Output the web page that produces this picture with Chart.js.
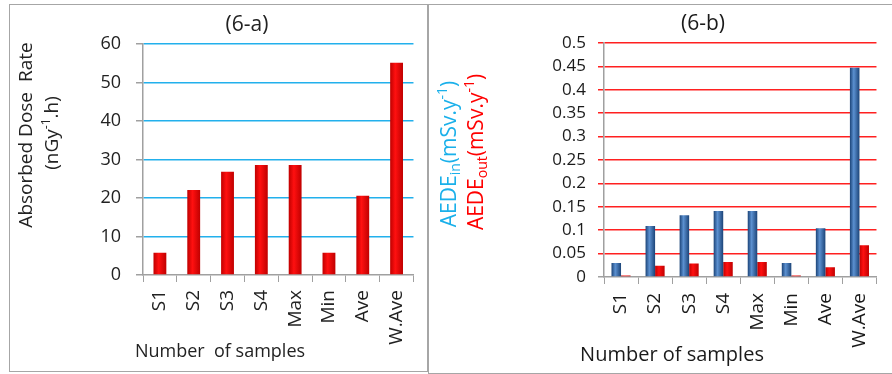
<!DOCTYPE html>
<html>
<head>
<meta charset="utf-8">
<script src="https://cdn.jsdelivr.net/npm/chart.js"></script>
<style>
  body { margin: 0; background: #fff; width: 892px; height: 374px; position: relative; overflow: hidden; }
  canvas { position: absolute; top: 0; }
  .frame { position: absolute; border: 1.5px solid #a6a6a6; box-sizing: border-box; pointer-events: none; }
</style>
</head>
<body>
<canvas id="chartA" width="428" height="374" style="left:0"></canvas>
<canvas id="chartB" width="464" height="374" style="left:428px"></canvas>
<div class="frame" style="left:9px;top:4px;width:419px;height:368px"></div>
<div class="frame" style="left:428px;top:4px;width:470px;height:370px"></div>
<script>
const categories = ["S1", "S2", "S3", "S4", "Max", "Min", "Ave", "W.Ave"];
const doseRate = [5.8, 22.1, 26.8, 28.6, 28.6, 5.8, 20.6, 55.1];
const aedeIn = [0.030, 0.109, 0.132, 0.141, 0.141, 0.030, 0.104, 0.447];
const aedeOut = [0.003, 0.024, 0.029, 0.032, 0.032, 0.003, 0.021, 0.068];
const doseTicks = ["0", "10", "20", "30", "40", "50", "60"];
const aedeTicks = ["0", "0.05", "0.1", "0.15", "0.2", "0.25", "0.3", "0.35", "0.4", "0.45", "0.5"];

const FONT = "'Open Sans', 'DejaVu Sans', sans-serif";
const AXIS_GREY = "#a0a0a0";
Chart.defaults.font.family = FONT;

// shaded fill like the old excel cylinder bars
function barFill(dark, light, nSets, catPct, barPct) {
  return (ctx) => {
    const chart = ctx.chart;
    const xs = chart.scales.x;
    if (ctx.type !== "data" || !xs || !chart.chartArea) return light;
    const catW = (xs.right - xs.left) / categories.length;
    const groupW = catW * catPct;
    const slot = groupW / nSets;
    const w = slot * barPct;
    const start = xs.getPixelForValue(ctx.dataIndex) - groupW / 2 + ctx.datasetIndex * slot + (slot - w) / 2;
    const g = chart.ctx.createLinearGradient(start, 0, start + w, 0);
    g.addColorStop(0, dark);
    g.addColorStop(0.4, light);
    g.addColorStop(1, dark);
    return g;
  };
}

// titles with sub/superscripts drawn on the canvas
const panelText = {
  id: "panelText",
  afterDraw(chart, args, opts) {
    const c = chart.ctx;
    (opts.items || []).forEach(item => {
      const size = item.size;
      const fontFor = p => `${p.sub || p.sup ? Math.round(size * 0.65) : size}px ${FONT}`;
      let total = 0;
      item.parts.forEach(p => { c.font = fontFor(p); total += c.measureText(p.t).width; });
      c.save();
      c.translate(item.x, item.y);
      if (item.rotate) c.rotate(-Math.PI / 2);
      c.textAlign = "left";
      c.textBaseline = "middle";
      c.fillStyle = item.color;
      let cx = -total / 2;
      item.parts.forEach(p => {
        c.font = fontFor(p);
        const dy = p.sub ? size * 0.3 : p.sup ? -size * 0.33 : 0;
        c.fillText(p.t, cx, dy);
        cx += c.measureText(p.t).width;
      });
      c.restore();
    });
  }
};

new Chart(document.getElementById("chartA"), {
  type: "bar",
  data: {
    labels: categories,
    datasets: [{
      label: "Absorbed Dose Rate",
      data: doseRate,
      backgroundColor: barFill("#c00000", "#ff1010", 1, 1, 0.38),
      borderWidth: 0,
      categoryPercentage: 1,
      barPercentage: 0.38
    }]
  },
  options: {
    responsive: false,
    animation: false,
    layout: { padding: { top: 44, right: 10, left: 0, bottom: 0 } },
    plugins: {
      legend: { display: false },
      tooltip: { enabled: false },
      panelText: {
        items: [
          { parts: [{ t: "(6-a)" }], x: 247, y: 25, size: 21, color: "#222" },
          { parts: [{ t: "Absorbed Dose  Rate" }], x: 27, y: 135, size: 19, rotate: true, color: "#222" },
          { parts: [{ t: "(nGy" }, { t: "-1", sup: true }, { t: ".h)" }], x: 53, y: 133, size: 19, rotate: true, color: "#222" },
          { parts: [{ t: "Number  of samples" }], x: 220, y: 352, size: 18, color: "#222" }
        ]
      }
    },
    scales: {
      x: {
        grid: { drawOnChartArea: false, tickLength: 7, tickColor: AXIS_GREY },
        border: { color: AXIS_GREY, width: 1.5 },
        ticks: { minRotation: 90, maxRotation: 90, padding: 8, color: "#222", font: { size: 19 } },
        afterFit: s => { s.height = 99; }
      },
      y: {
        min: 0,
        max: 60,
        ticks: { stepSize: 10, padding: 15, color: "#222", font: { size: 18 }, callback: (v, i) => doseTicks[i] },
        grid: {
          color: c => c.tick && c.tick.value === 0 ? "rgba(0,0,0,0)" : "#22b0ec",
          lineWidth: 1.5,
          tickLength: 7,
          tickColor: AXIS_GREY
        },
        border: { color: AXIS_GREY, width: 1.5 },
        afterFit: s => { s.width = 143; }
      }
    }
  },
  plugins: [panelText]
});

new Chart(document.getElementById("chartB"), {
  type: "bar",
  data: {
    labels: categories,
    datasets: [
      {
        label: "AEDE in",
        data: aedeIn,
        backgroundColor: barFill("#1c4478", "#5b90d0", 2, 0.56, 1),
        borderWidth: 0,
        categoryPercentage: 0.56,
        barPercentage: 1
      },
      {
        label: "AEDE out",
        data: aedeOut,
        backgroundColor: barFill("#c00000", "#ff1010", 2, 0.56, 1),
        borderWidth: 0,
        categoryPercentage: 0.56,
        barPercentage: 1
      }
    ]
  },
  options: {
    responsive: false,
    animation: false,
    layout: { padding: { top: 43, right: 12, left: 36, bottom: 0 } },
    plugins: {
      legend: { display: false },
      tooltip: { enabled: false },
      panelText: {
        items: [
          { parts: [{ t: "(6-b)" }], x: 275, y: 24, size: 21, color: "#1a1a1a" },
          { parts: [{ t: "AEDE" }, { t: "in", sub: true }, { t: "(mSv.y" }, { t: "-1", sup: true }, { t: ")" }], x: 22, y: 154, size: 21, rotate: true, color: "#1ab0ea" },
          { parts: [{ t: "AEDE" }, { t: "out", sub: true }, { t: "(mSv.y" }, { t: "-1", sup: true }, { t: ")" }], x: 49, y: 152, size: 21, rotate: true, color: "#ff0000" },
          { parts: [{ t: "Number of samples" }], x: 244, y: 355, size: 20, color: "#1a1a1a" }
        ]
      }
    },
    scales: {
      x: {
        grid: { drawOnChartArea: false, tickLength: 7, tickColor: AXIS_GREY },
        border: { color: AXIS_GREY, width: 1.5 },
        ticks: { minRotation: 90, maxRotation: 90, padding: 9, color: "#1a1a1a", font: { size: 19 } },
        afterFit: s => { s.height = 97; }
      },
      y: {
        min: 0,
        max: 0.5,
        ticks: { stepSize: 0.05, padding: 12, color: "#1a1a1a", font: { size: 17 }, callback: (v, i) => aedeTicks[i] },
        grid: {
          color: c => c.tick && c.tick.value === 0 ? "rgba(0,0,0,0)" : "#ff2020",
          lineWidth: 1.5,
          tickLength: 6,
          tickColor: c => c.tick && c.tick.value === 0 ? AXIS_GREY : "#ff2020"
        },
        border: { color: AXIS_GREY, width: 1.5 },
        afterFit: s => { s.width = 140; }
      }
    }
  },
  plugins: [panelText]
});
</script>
</body>
</html>
